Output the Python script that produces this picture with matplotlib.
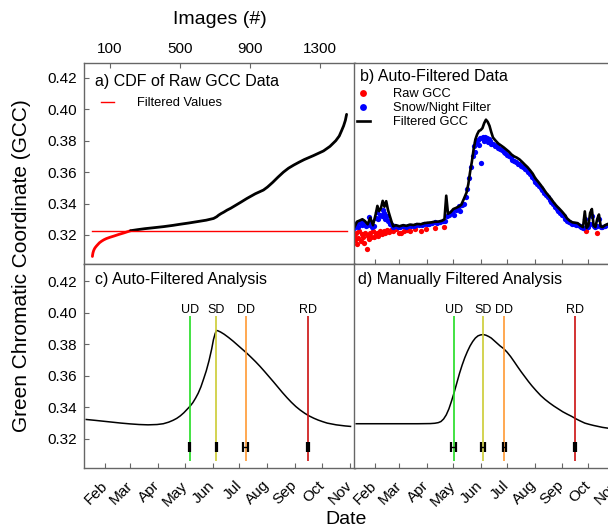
import numpy as np
import matplotlib.pyplot as plt

plt.rcParams['font.family'] = ['Liberation Sans', 'DejaVu Sans']

# ---------------- data ----------------
# a) sorted raw GCC vs image number
cdf_index = [0, 1, 3, 6, 10, 15, 22, 30, 40, 52, 65, 80, 100, 123, 150, 180, 218,
             260, 300, 350, 407, 460, 500, 550, 600, 650, 692, 710, 721, 735, 750, 769,
             790, 820, 850, 882, 930, 977, 1000, 1030, 1060, 1091, 1120, 1150, 1180, 1210,
             1262, 1320, 1357, 1390, 1410, 1423, 1435, 1445, 1452]
cdf_gcc = [0.3063, 0.3072, 0.3085, 0.3097, 0.3108, 0.3118, 0.3128, 0.3138, 0.3150, 0.3160,
           0.3169, 0.3177, 0.3185, 0.3193, 0.3203, 0.3213, 0.3227, 0.3234, 0.3240, 0.3246,
           0.3253, 0.3261, 0.3268, 0.3276, 0.3285, 0.3294, 0.3305, 0.3316, 0.3326, 0.3336,
           0.3345, 0.3358, 0.3370, 0.3390, 0.3410, 0.3432, 0.3462, 0.3486, 0.3505, 0.3535,
           0.3568, 0.3600, 0.3625, 0.3645, 0.3663, 0.3680, 0.3705, 0.3735, 0.3764, 0.3800,
           0.3830, 0.3863, 0.3895, 0.3930, 0.3968]
n_filtered = 17          # first knots (up to index 218) are below the threshold
threshold = 0.3227

# b) time series (day of year)
raw_doy = [9, 10, 11, 12, 13, 14, 16, 17, 19, 20, 21, 23, 24, 25, 27, 28, 30, 31, 33, 35,
           36, 38, 40, 42, 44, 46, 48, 50, 53, 56, 59, 62, 65, 68, 72, 78, 84, 90, 100, 110,
           271, 284]
raw_gcc = [0.3195, 0.3165, 0.3215, 0.3140, 0.3180, 0.3225, 0.3160, 0.3205, 0.3190, 0.3150,
           0.3215, 0.3112, 0.3195, 0.3175, 0.3210, 0.3190, 0.3225, 0.3185, 0.3205, 0.3215,
           0.3195, 0.3222, 0.3205, 0.3228, 0.3215, 0.3230, 0.3220, 0.3232, 0.3225, 0.3235,
           0.3215, 0.3210, 0.3228, 0.3232, 0.3225, 0.3235, 0.3228, 0.3240, 0.3245, 0.3250,
           0.3228, 0.3215]

snow_doy = [9, 10, 12, 13, 15, 17, 18, 20, 22, 24, 26, 27, 29, 31, 33, 35, 36, 38, 40, 41,
            43, 44, 46, 47, 49, 51, 53, 55, 58, 61, 64, 67, 70, 73, 76, 79, 82, 85, 88, 91,
            94, 97, 100, 103, 106, 109, 112, 114, 116, 118, 120, 122, 124, 126, 128, 129,
            131, 133, 135, 137, 139, 141, 143, 145, 146, 147, 149, 150, 151, 152, 153, 155,
            156, 157, 159, 160, 161, 163, 164, 166, 168, 170, 172, 174, 176, 178, 180, 182,
            184, 186, 188, 190, 192, 194, 196, 198, 200, 202, 204, 206, 208, 210, 212, 214,
            216, 218, 220, 222, 224, 226, 228, 230, 232, 234, 236, 238, 240, 242, 244, 246,
            248, 250, 252, 254, 256, 258, 260, 262, 264, 266, 268, 270, 272, 274, 276, 278,
            280, 282, 284, 286, 288, 290, 293, 296, 299, 302, 305]
snow_gcc = [0.3245, 0.3262, 0.3275, 0.3248, 0.3282, 0.3290, 0.3265, 0.3270, 0.3255, 0.3262,
            0.3312, 0.3285, 0.3250, 0.3258, 0.3305, 0.3345, 0.3300, 0.3330, 0.3318, 0.3360,
            0.3340, 0.3300, 0.3322, 0.3290, 0.3270, 0.3262, 0.3248, 0.3255, 0.3248, 0.3252,
            0.3256, 0.3250, 0.3260, 0.3258, 0.3255, 0.3265, 0.3262, 0.3266, 0.3270, 0.3272,
            0.3268, 0.3276, 0.3280, 0.3276, 0.3282, 0.3286, 0.3290, 0.3318, 0.3325, 0.3340,
            0.3348, 0.3330, 0.3362, 0.3370, 0.3385, 0.3355, 0.3392, 0.3400, 0.3440, 0.3495,
            0.3560, 0.3630, 0.3700, 0.3765, 0.3730, 0.3790, 0.3805, 0.3770, 0.3818, 0.3660,
            0.3815, 0.3822, 0.3800, 0.3825, 0.3818, 0.3790, 0.3810, 0.3800, 0.3780, 0.3778,
            0.3765, 0.3770, 0.3752, 0.3745, 0.3740, 0.3728, 0.3720, 0.3712, 0.3700, 0.3698,
            0.3680, 0.3672, 0.3665, 0.3655, 0.3650, 0.3640, 0.3632, 0.3620, 0.3612, 0.3598,
            0.3588, 0.3570, 0.3558, 0.3540, 0.3525, 0.3512, 0.3498, 0.3485, 0.3468, 0.3452,
            0.3440, 0.3425, 0.3410, 0.3395, 0.3380, 0.3368, 0.3355, 0.3342, 0.3330, 0.3318,
            0.3300, 0.3288, 0.3280, 0.3275, 0.3270, 0.3268, 0.3266, 0.3262, 0.3255, 0.3252,
            0.3245, 0.3300, 0.3262, 0.3250, 0.3270, 0.3320, 0.3255, 0.3248, 0.3260, 0.3300,
            0.3252, 0.3248, 0.3255, 0.3262, 0.3250, 0.3258, 0.3255]

filt_doy = [9, 12, 15, 18, 21, 24, 27, 30, 33, 35, 37, 39, 41, 43, 45, 47, 49, 51, 53, 56,
            60, 64, 68, 72, 76, 80, 84, 88, 92, 96, 100, 104, 108, 111, 113, 115, 118, 121,
            124, 127, 130, 133, 136, 138, 140, 142, 144, 146, 148, 150, 152, 154, 156, 158,
            160, 162, 164, 166, 169, 172, 175, 178, 181, 184, 187, 190, 193, 196, 199, 202,
            205, 208, 211, 214, 217, 220, 223, 226, 229, 232, 235, 238, 241, 244, 247, 250,
            253, 256, 259, 262, 265, 268, 270, 272, 274, 276, 278, 280, 282, 284, 286, 288,
            290, 293, 296, 299, 302, 305]
filt_gcc = [0.3250, 0.3285, 0.3292, 0.3300, 0.3288, 0.3268, 0.3310, 0.3262, 0.3330, 0.3385,
            0.3352, 0.3370, 0.3417, 0.3380, 0.3415, 0.3360, 0.3322, 0.3285, 0.3255, 0.3262,
            0.3255, 0.3262, 0.3258, 0.3266, 0.3263, 0.3270, 0.3268, 0.3275, 0.3278, 0.3280,
            0.3284, 0.3285, 0.3290, 0.3300, 0.3450, 0.3335, 0.3345, 0.3365, 0.3372, 0.3380,
            0.3392, 0.3430, 0.3470, 0.3523, 0.3600, 0.3665, 0.3745, 0.3808, 0.3840, 0.3862,
            0.3868, 0.3880, 0.3912, 0.3934, 0.3920, 0.3895, 0.3855, 0.3820, 0.3800, 0.3782,
            0.3770, 0.3758, 0.3744, 0.3730, 0.3712, 0.3700, 0.3692, 0.3681, 0.3665, 0.3648,
            0.3632, 0.3612, 0.3590, 0.3560, 0.3540, 0.3518, 0.3495, 0.3470, 0.3450, 0.3428,
            0.3405, 0.3385, 0.3368, 0.3350, 0.3330, 0.3305, 0.3290, 0.3280, 0.3278, 0.3275,
            0.3260, 0.3250, 0.3350, 0.3245, 0.3258, 0.3340, 0.3365, 0.3260, 0.3250, 0.3300,
            0.3330, 0.3255, 0.3250, 0.3262, 0.3270, 0.3258, 0.3265, 0.3262]

# c) / d) fitted curves
auto_doy = [11, 20, 30, 40, 50, 60, 70, 80, 90, 97, 103, 108, 112, 116, 120, 124, 127, 130,
            133, 136, 139, 142, 145, 148, 151, 153, 155, 156.5, 158, 161, 165, 170, 175, 180,
            185, 190, 195, 200, 205, 210, 215, 220, 225, 230, 235, 240, 245, 250, 255, 260,
            265, 270, 275, 280, 290, 300, 306]
auto_fit = [0.3323, 0.3318, 0.3312, 0.3306, 0.3300, 0.3295, 0.3291, 0.3289, 0.3291, 0.3296,
            0.3306, 0.3318, 0.3330, 0.3346, 0.3366, 0.3390, 0.3408, 0.3430, 0.3458, 0.3490,
            0.3530, 0.3580, 0.3632, 0.3695, 0.3770, 0.3830, 0.3870, 0.3888, 0.3886, 0.3878,
            0.3864, 0.3843, 0.3820, 0.3795, 0.3770, 0.3745, 0.3718, 0.3690, 0.3660, 0.3628,
            0.3595, 0.3562, 0.3528, 0.3494, 0.3462, 0.3432, 0.3405, 0.3382, 0.3362, 0.3345,
            0.3331, 0.3319, 0.3309, 0.3300, 0.3289, 0.3282, 0.3279]

manual_doy = [11, 30, 60, 81, 95, 100, 104, 107, 110, 113, 116, 119, 122, 125, 128, 131, 134,
              137, 140, 143, 146, 149, 152, 155, 158, 161, 164, 167, 170, 174, 178, 182, 186,
              190, 194, 198, 202, 206, 210, 215, 220, 225, 230, 235, 240, 245, 250, 255, 260,
              265, 270, 275, 280, 285, 290, 296, 305, 313]
manual_fit = [0.3296, 0.3296, 0.3296, 0.3296, 0.3297, 0.3299, 0.3303, 0.3310, 0.3326, 0.3352,
              0.3390, 0.3440, 0.3495, 0.3555, 0.3615, 0.3668, 0.3715, 0.3755, 0.3790, 0.3818,
              0.3840, 0.3854, 0.3860, 0.3862, 0.3858, 0.3850, 0.3840, 0.3825, 0.3810, 0.3790,
              0.3773, 0.3750, 0.3722, 0.3690, 0.3657, 0.3625, 0.3595, 0.3565, 0.3537, 0.3505,
              0.3475, 0.3450, 0.3428, 0.3408, 0.3390, 0.3372, 0.3357, 0.3343, 0.3327, 0.3313,
              0.3300, 0.3292, 0.3285, 0.3279, 0.3273, 0.3268, 0.3262, 0.3258]

phase_names = ['UD', 'SD', 'DD', 'RD']
phase_colors = ['#22dd22', '#cccc33', '#ff9933', '#cc1111']
auto_dates = [126.7, 156.4, 188.8, 258.6]
auto_err = [0.5, 0.5, 2.4, 1.2]
manual_dates = [121.7, 154.5, 179.0, 258.9]
manual_err = [2.8, 2.2, 1.7, 1.1]

month_doy = [32, 60, 91, 121, 152, 182, 213, 244, 274, 305]
month_names = ['Feb', 'Mar', 'Apr', 'May', 'Jun', 'Jul', 'Aug', 'Sep', 'Oct', 'Nov']
gcc_ticks = [0.32, 0.34, 0.36, 0.38, 0.40, 0.42]
image_ticks = [100, 500, 900, 1300]

# ---------------- layout ----------------
W, H = 608, 531
fig = plt.figure(figsize=(W / 100, H / 100), dpi=100)


def box(l, t, r, b):
    return [l / W, 1 - b / H, (r - l) / W, (b - t) / H]


ax_a = fig.add_axes(box(84, 63, 355, 264))
ax_b = fig.add_axes(box(354, 63, 621, 264))
ax_c = fig.add_axes(box(84, 264, 355, 468))
ax_d = fig.add_axes(box(354, 264, 621, 468))

frame = '#666666'
for ax in (ax_a, ax_b, ax_c, ax_d):
    for s in ax.spines.values():
        s.set_color(frame)
        s.set_linewidth(1.0)
    ax.tick_params(direction='in', length=3.5, width=0.8, color=frame, labelsize=11, pad=5)
    ax.set_yticks(gcc_ticks)
    ax.set_yticklabels([f'{v:.2f}' for v in gcc_ticks])

ax_a.set_ylim(0.3015, 0.4295)
ax_b.set_ylim(0.3015, 0.4295)
ax_c.set_ylim(0.3015, 0.431)
ax_d.set_ylim(0.3015, 0.431)
for ax in (ax_b, ax_c, ax_d):
    ax.set_xlim(8.5, 311)
    ax.set_xticks(month_doy)
ax_b.tick_params(axis='y', left=False, labelleft=False)
ax_d.tick_params(axis='y', left=False, labelleft=False)
ax_b.tick_params(axis='x', labelbottom=False)
for ax in (ax_c, ax_d):
    ax.set_xticklabels(month_names)
    plt.setp(ax.get_xticklabels(), rotation=45, ha='right', va='center',
             rotation_mode='anchor')
    ax.tick_params(axis='x', pad=11)

# ---- a) CDF ----
ax_a.set_xlim(-48, 1500)
ax_a.set_xticks(image_ticks)
ax_a.tick_params(axis='x', bottom=False, labelbottom=False, top=True, labeltop=True)
ax_a.plot(cdf_index[:n_filtered], cdf_gcc[:n_filtered], color='red', lw=2.0,
          solid_capstyle='round')
ax_a.plot(cdf_index[n_filtered - 1:], cdf_gcc[n_filtered - 1:], color='black', lw=2.0,
          solid_capstyle='round')
ax_a.plot([cdf_index[0], cdf_index[-1]], [threshold, threshold], color='red', lw=1.0,
          label='Filtered Values')
ax_a.text(0.04, 0.91, 'a) CDF of Raw GCC Data', transform=ax_a.transAxes,
          fontsize=11.5, va='center', ha='left')
ax_a.legend(loc='upper left', bbox_to_anchor=(0.062, 0.83), frameon=False, fontsize=9.3,
            handlelength=1.0, handletextpad=1.8, borderpad=0, borderaxespad=0)

# ---- b) time series ----
ax_b.plot(raw_doy, raw_gcc, 'o', color='#ff0000', ms=3.8, mew=0, label='Raw GCC')
ax_b.plot(snow_doy, snow_gcc, 'o', color='#0000ff', ms=3.8, mew=0, label='Snow/Night Filter')
ax_b.plot(filt_doy, filt_gcc, color='black', lw=1.9, label='Filtered GCC')
ax_b.text(0.021, 0.935, 'b) Auto-Filtered Data', transform=ax_b.transAxes,
          fontsize=11.5, va='center', ha='left')
ax_b.legend(loc='upper left', bbox_to_anchor=(0.01, 0.875), frameon=False, fontsize=9.3,
            handlelength=1.0, handletextpad=1.8, borderpad=0, borderaxespad=0,
            labelspacing=0.15, numpoints=1, markerscale=1.3)


# ---- c) / d) fitted curves with phenophases ----
def phen_panel(ax, doy, fit, dates, errs, title, tx):
    ax.plot(doy, fit, color='black', lw=1.1)
    for name, col, d, e in zip(phase_names, phase_colors, dates, errs):
        ax.vlines(d, 0.3062, 0.3977, color=col, lw=1.2)
        ax.text(d, 0.4017, name, ha='center', va='center', fontsize=9)
        ax.errorbar(d, 0.3150, xerr=e, fmt='none', ecolor='black', elinewidth=1.0,
                    capsize=3.8, capthick=1.6)
    ax.text(tx, 0.925, title, transform=ax.transAxes, fontsize=11.5, va='center', ha='left')


phen_panel(ax_c, auto_doy, auto_fit, auto_dates, auto_err, 'c) Auto-Filtered Analysis', 0.04)
phen_panel(ax_d, manual_doy, manual_fit, manual_dates, manual_err,
           'd) Manually Filtered Analysis', 0.015)

fig.text(220 / W, 1 - 20 / H, 'Images (#)', ha='center', va='center', fontsize=14)
fig.text(22 / W, 1 - 266 / H, 'Green Chromatic Coordinate (GCC)', ha='center', va='center',
         rotation=90, fontsize=15)
fig.text(346 / W, 1 - 520 / H, 'Date', ha='center', va='center', fontsize=14)

fig.savefig('out.png', dpi=100)
